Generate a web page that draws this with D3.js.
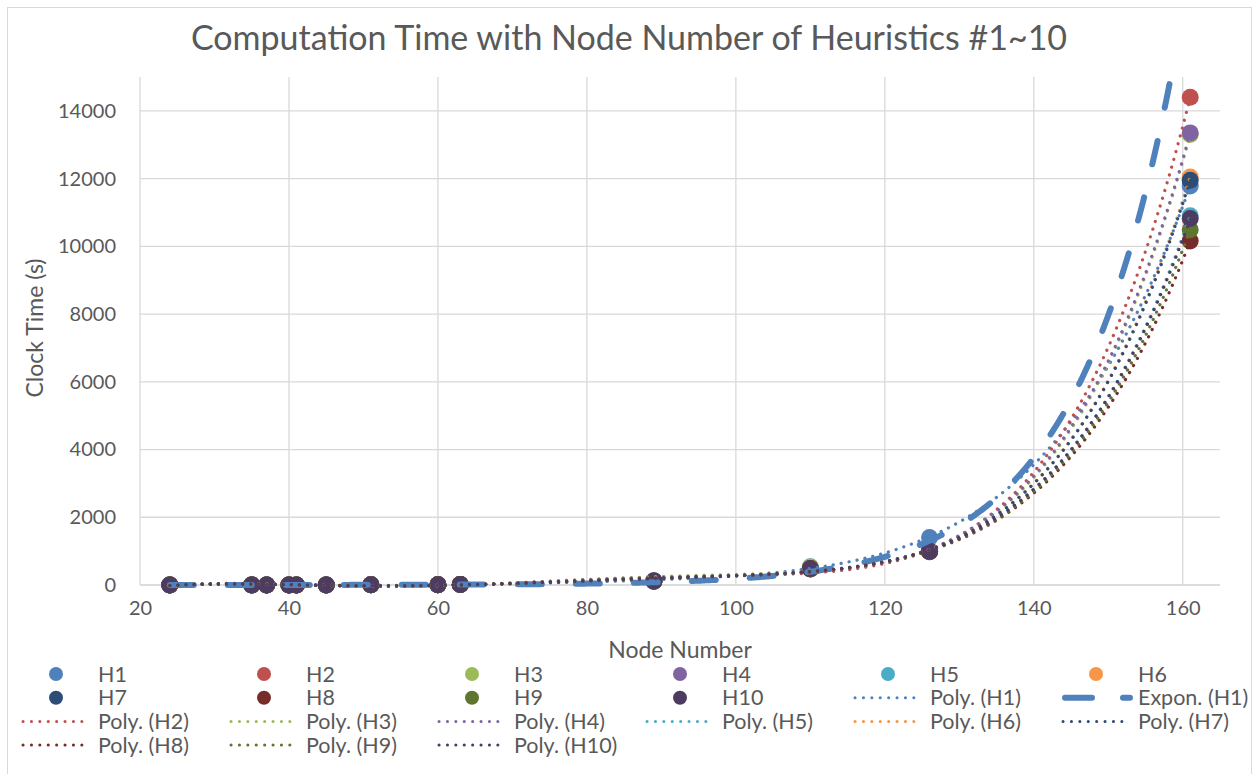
<!DOCTYPE html>
<html>
<head>
<meta charset="utf-8">
<script src="https://cdn.jsdelivr.net/npm/d3@7"></script>
<style>
  body { margin: 0; background: #fff; }
  text { font-family: Lato, "Open Sans", sans-serif; fill: #595959; }
</style>
</head>
<body>
<script>
// node numbers (x) shared by every heuristic
const nodes = [24, 35, 37, 40, 41, 45, 51, 60, 63, 89, 110, 126, 161];

// clock time (s) per heuristic
const H1  = [0.4, 1.3, 1.6, 2.0, 2.2, 3.0, 4.8, 10, 12.5, 105, 540, 1400, 11780];
const H2  = [0.6, 1.5, 1.8, 2.3, 2.5, 3.4, 5.2, 11, 14, 120, 470, 980, 14400];
const H3  = [0.5, 1.4, 1.7, 2.2, 2.4, 3.2, 5.0, 10, 13, 125, 530, 1000, 13300];
const H4  = [0.5, 1.4, 1.7, 2.1, 2.3, 3.1, 4.9, 10, 13, 118, 490, 1010, 13350];
const H5  = [0.5, 1.3, 1.6, 2.0, 2.2, 3.0, 4.7, 9.5, 12, 115, 480, 990, 10900];
const H6  = [0.5, 1.4, 1.7, 2.1, 2.3, 3.1, 4.9, 10, 13, 120, 500, 1000, 12050];
const H7  = [0.5, 1.3, 1.6, 2.0, 2.2, 3.0, 4.8, 9.8, 12.5, 118, 490, 1000, 11950];
const H8  = [0.5, 1.3, 1.6, 2.0, 2.2, 3.0, 4.6, 9.5, 12, 112, 470, 980, 10160];
const H9  = [0.5, 1.3, 1.6, 2.0, 2.2, 3.0, 4.7, 9.6, 12, 114, 480, 990, 10490];
const H10 = [0.5, 1.3, 1.6, 2.0, 2.2, 3.0, 4.7, 9.7, 12, 116, 485, 1000, 10820];

const seriesNames = ["H1", "H2", "H3", "H4", "H5", "H6", "H7", "H8", "H9", "H10"];
const seriesValues = [H1, H2, H3, H4, H5, H6, H7, H8, H9, H10];
const colors = ["#4F81BD", "#C0504D", "#9BBB59", "#8064A2", "#4BACC6",
                "#F79646", "#2C4D75", "#772C2A", "#5F7530", "#4D3B62"];

const xTicks = [20, 40, 60, 80, 100, 120, 140, 160];
const yTicks = [0, 2000, 4000, 6000, 8000, 10000, 12000, 14000];
const polyOrder = 5;

const W = 1258, H = 774;
const pLeft = 140, pRight = 1220, pTop = 77, pBottom = 585;

const svg = d3.select("body").append("svg")
    .attr("width", W)
    .attr("height", H);

svg.append("rect")
    .attr("x", 7.5).attr("y", 7.5)
    .attr("width", 1244).attr("height", 800)
    .attr("fill", "#fff")
    .attr("stroke", "#d9d9d9");

const x = d3.scaleLinear().domain([20, 165]).range([pLeft, pRight]);
const y = d3.scaleLinear().domain([0, 15000]).range([pBottom, pTop]);

// grid
svg.append("g").selectAll("line")
    .data(yTicks.slice(1))
    .enter().append("line")
    .attr("x1", pLeft).attr("x2", pRight)
    .attr("y1", d => y(d)).attr("y2", d => y(d))
    .attr("stroke", "#d9d9d9").attr("stroke-width", 1.3);

svg.append("g").selectAll("line")
    .data(xTicks)
    .enter().append("line")
    .attr("x1", d => x(d)).attr("x2", d => x(d))
    .attr("y1", pTop).attr("y2", pBottom)
    .attr("stroke", "#d9d9d9").attr("stroke-width", 1.3);

svg.append("line")
    .attr("x1", pLeft).attr("x2", pRight)
    .attr("y1", pBottom).attr("y2", pBottom)
    .attr("stroke", "#d0d0d0").attr("stroke-width", 1.5);

// axes labels
const xAxis = svg.append("g")
    .attr("transform", "translate(0," + pBottom + ")")
    .call(d3.axisBottom(x).tickValues(xTicks).tickSize(0).tickPadding(16));
const yAxis = svg.append("g")
    .attr("transform", "translate(" + pLeft + ",0)")
    .call(d3.axisLeft(y).tickValues(yTicks).tickSize(0).tickPadding(24).tickFormat(d3.format("d")));
[xAxis, yAxis].forEach(a => {
    a.select(".domain").remove();
    a.selectAll("text").attr("font-size", 20).attr("fill", "#595959")
        .style("font-family", "Lato, 'Open Sans', sans-serif");
});

svg.append("text")
    .attr("x", 629).attr("y", 50)
    .attr("text-anchor", "middle")
    .attr("font-size", 34)
    .text("Computation Time with Node Number of Heuristics #1~10");

svg.append("text")
    .attr("transform", "translate(43,328) rotate(-90)")
    .attr("text-anchor", "middle")
    .attr("font-size", 23)
    .text("Clock Time (s)");

svg.append("text")
    .attr("x", 680).attr("y", 658)
    .attr("text-anchor", "middle")
    .attr("font-size", 23)
    .text("Node Number");

// fits
function polyFit(xs, ys, order) {
    const n = order + 1;
    const u = xs.map(v => (v - 90) / 70);
    const A = Array.from({length: n}, () => new Array(n + 1).fill(0));
    u.forEach((ui, k) => {
        for (let i = 0; i < n; i++) {
            for (let j = 0; j < n; j++) A[i][j] += Math.pow(ui, i + j);
            A[i][n] += Math.pow(ui, i) * ys[k];
        }
    });
    for (let c = 0; c < n; c++) {
        let p = c;
        for (let r = c + 1; r < n; r++) if (Math.abs(A[r][c]) > Math.abs(A[p][c])) p = r;
        [A[c], A[p]] = [A[p], A[c]];
        for (let r = 0; r < n; r++) {
            if (r === c) continue;
            const f = A[r][c] / A[c][c];
            for (let k = c; k <= n; k++) A[r][k] -= f * A[c][k];
        }
    }
    const coef = A.map((row, i) => row[n] / row[i]);
    return v => {
        const uu = (v - 90) / 70;
        return coef.reduce((s, c, i) => s + c * Math.pow(uu, i), 0);
    };
}

function expFit(xs, ys) {
    const ly = ys.map(Math.log);
    const mx = d3.mean(xs), my = d3.mean(ly);
    const b = d3.sum(xs, (v, i) => (v - mx) * (ly[i] - my)) / d3.sum(xs, v => (v - mx) * (v - mx));
    const a = my - b * mx;
    return v => Math.exp(a + b * v);
}

const xMin = d3.min(nodes), xMax = d3.max(nodes);
const samples = d3.range(xMin, xMax + 0.01, 0.25);

svg.append("clipPath").attr("id", "plot")
    .append("rect").attr("x", pLeft).attr("y", pTop)
    .attr("width", pRight - pLeft).attr("height", pBottom - pTop + 4);

const line = d3.line().x(d => x(d[0])).y(d => y(d[1]));

// markers
const pointLayer = svg.append("g");
seriesValues.forEach((vals, si) => {
    pointLayer.selectAll(".p" + si)
        .data(vals.map((v, i) => [nodes[i], v]))
        .enter().append("circle")
        .attr("cx", d => x(d[0]))
        .attr("cy", d => y(d[1]))
        .attr("r", 8.5)
        .attr("fill", colors[si]);
});

// trendlines
const trendLayer = svg.append("g").attr("clip-path", "url(#plot)");
const trends = [];
seriesValues.forEach((vals, si) => {
    trends.push({name: "Poly. (" + seriesNames[si] + ")", color: colors[si], type: "poly",
                 f: polyFit(nodes, vals, polyOrder)});
    if (si === 0) {
        trends.push({name: "Expon. (H1)", color: colors[0], type: "exp", f: expFit(nodes, vals)});
    }
});

trends.forEach(t => {
    const pts = samples.map(v => [v, t.f(v)]);
    const p = trendLayer.append("path")
        .attr("d", line(pts))
        .attr("fill", "none")
        .attr("stroke", t.color)
        .attr("stroke-linecap", "round");
    if (t.type === "exp") {
        p.attr("stroke-width", 6).attr("stroke-dasharray", "24 34");
    } else {
        p.attr("stroke-width", 3.2).attr("stroke-dasharray", "0.1 8");
    }
});

// legend
const legendItems = seriesNames.map((n, i) => ({name: n, color: colors[i], type: "marker"}))
    .concat(trends.map(t => ({name: t.name, color: t.color, type: t.type})));

const legend = svg.append("g");
legendItems.forEach((it, i) => {
    const col = i % 6, row = Math.floor(i / 6);
    const x0 = 22 + col * 208, yc = 674 + row * 23.7;
    const g = legend.append("g");
    if (it.type === "marker") {
        g.append("circle").attr("cx", x0 + 34).attr("cy", yc).attr("r", 7).attr("fill", it.color);
    } else if (it.type === "exp") {
        g.append("line").attr("x1", x0 + 3).attr("x2", x0 + 68).attr("y1", yc).attr("y2", yc)
            .attr("stroke", it.color).attr("stroke-width", 6).attr("stroke-linecap", "round")
            .attr("stroke-dasharray", "27 31");
    } else {
        g.append("line").attr("x1", x0 + 1).attr("x2", x0 + 68).attr("y1", yc).attr("y2", yc)
            .attr("stroke", it.color).attr("stroke-width", 3).attr("stroke-linecap", "round")
            .attr("stroke-dasharray", "0.1 8.3");
    }
    g.append("text")
        .attr("x", x0 + 76).attr("y", yc)
        .attr("dy", "0.35em")
        .attr("font-size", 21.5)
        .text(it.name);
});
</script>
</body>
</html>
